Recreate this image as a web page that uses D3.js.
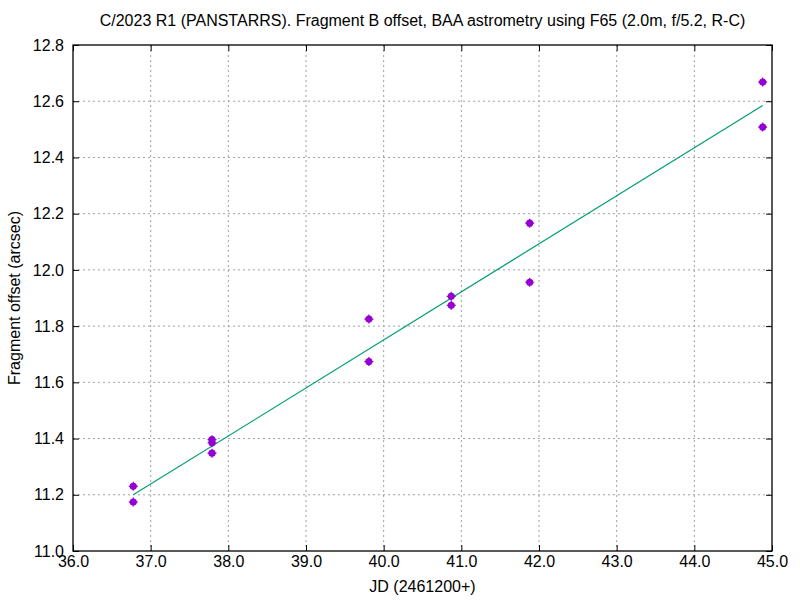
<!DOCTYPE html>
<html>
<head>
<meta charset="utf-8">
<script src="https://cdn.jsdelivr.net/npm/d3@7"></script>
<style>
  body { margin: 0; background: #fff; }
  text { font-family: "Liberation Sans", Arial, sans-serif; font-size: 16px; fill: #000; }
</style>
</head>
<body>
<script>
// measured offsets (JD - 2461200, arcsec)
var jd     = [36.776, 36.776, 37.79, 37.79, 37.79, 39.81, 39.81, 40.87, 40.87, 41.88, 41.88, 44.88, 44.88];
var offset = [11.230, 11.174, 11.396, 11.385, 11.348, 11.825, 11.674, 11.906, 11.874, 12.166, 11.956, 12.668, 12.508];

// linear fit, drawn between first and last JD
var fitJd     = [36.776, 44.88];
var fitOffset = [11.200, 12.585];

var xTicks = [36, 37, 38, 39, 40, 41, 42, 43, 44, 45];
var yTicks = [11.0, 11.2, 11.4, 11.6, 11.8, 12.0, 12.2, 12.4, 12.6, 12.8];

var w = 800, h = 600;
var margin = {top: 45, right: 28, bottom: 49, left: 73};
var width = w - margin.left - margin.right,
    height = h - margin.top - margin.bottom;

var svg = d3.select("body").append("svg")
    .attr("width", w)
    .attr("height", h);

var g = svg.append("g")
    .attr("transform", "translate(" + margin.left + "," + margin.top + ")");

var x = d3.scaleLinear().domain([36, 45]).range([0, width]);
var y = d3.scaleLinear().domain([11.0, 12.8]).range([height, 0]);

// grid
g.append("g").selectAll("line")
    .data(xTicks.slice(1, -1)).enter().append("line")
    .attr("x1", d => x(d)).attr("x2", d => x(d))
    .attr("y1", 0).attr("y2", height)
    .attr("stroke", "#a0a0a0").attr("stroke-dasharray", "2,3");
g.append("g").selectAll("line")
    .data(yTicks.slice(1, -1)).enter().append("line")
    .attr("x1", 0).attr("x2", width)
    .attr("y1", d => y(d)).attr("y2", d => y(d))
    .attr("stroke", "#a0a0a0").attr("stroke-dasharray", "2,3");

// axes, ticks inward and mirrored
var fmt = d3.format(".1f");
function styleAxis(sel) {
    sel.select(".domain").remove();
    sel.selectAll("line").attr("stroke", "#000");
    sel.selectAll("text").style("font-size", "16px").attr("fill", "#000");
}
g.append("g").attr("transform", "translate(0," + height + ")")
    .call(d3.axisBottom(x).tickValues(xTicks).tickFormat(fmt).tickSizeInner(-6).tickPadding(5))
    .call(styleAxis);
g.append("g")
    .call(d3.axisTop(x).tickValues(xTicks).tickFormat("").tickSizeInner(-6))
    .call(styleAxis);
g.append("g")
    .call(d3.axisLeft(y).tickValues(yTicks).tickFormat(fmt).tickSizeInner(-6).tickPadding(9))
    .call(styleAxis);
g.append("g").attr("transform", "translate(" + width + ",0)")
    .call(d3.axisRight(y).tickValues(yTicks).tickFormat("").tickSizeInner(-6))
    .call(styleAxis);

g.append("rect")
    .attr("width", width).attr("height", height)
    .attr("fill", "none").attr("stroke", "#000").attr("stroke-width", 1.3);

// fit line
g.append("path")
    .datum(fitJd.map((d, i) => [d, fitOffset[i]]))
    .attr("d", d3.line().x(d => x(d[0])).y(d => y(d[1])))
    .attr("fill", "none")
    .attr("stroke", "#009e73")
    .attr("stroke-width", 1.2);

// points
var pts = g.append("g").selectAll("g")
    .data(jd.map((d, i) => [d, offset[i]])).enter().append("g")
    .attr("transform", d => "translate(" + x(d[0]) + "," + y(d[1]) + ")");
pts.append("circle").attr("r", 3.6).attr("fill", "#9400d3");
pts.append("path").attr("d", "M-4.5,0H4.5M0,-4.5V4.5")
    .attr("stroke", "#9400d3").attr("stroke-width", 1.2);

// labels
svg.append("text")
    .attr("x", margin.left + width / 2).attr("y", 26)
    .attr("text-anchor", "middle")
    .text("C/2023 R1 (PANSTARRS). Fragment B offset, BAA astrometry using F65 (2.0m, f/5.2, R-C)");
svg.append("text")
    .attr("x", margin.left + width / 2).attr("y", 592)
    .attr("text-anchor", "middle")
    .text("JD (2461200+)");
svg.append("text")
    .attr("transform", "translate(20," + (margin.top + height / 2) + ") rotate(-90)")
    .attr("text-anchor", "middle")
    .text("Fragment offset (arcsec)");
</script>
</body>
</html>
